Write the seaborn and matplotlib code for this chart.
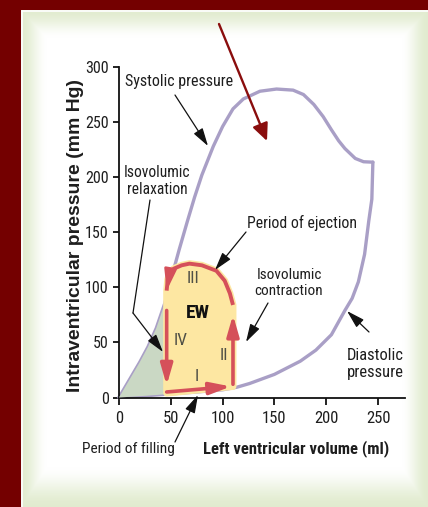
import numpy as np
import matplotlib
matplotlib.use("Agg")
import matplotlib.pyplot as plt
from matplotlib import font_manager
from matplotlib.lines import Line2D
import seaborn as sns

# ---------------- data ----------------
systolic_volume = [0, 10, 20, 28, 36, 44, 51, 58, 66, 73, 80, 91, 100, 110, 120, 136,
                   152, 168, 178, 188, 197, 205, 212, 218, 228, 236, 245]
systolic_pressure = [0, 16, 32, 46, 63, 85, 110, 134, 160, 182, 202, 228, 246, 262, 271, 278,
                     280, 279, 275, 266, 255, 243, 233, 226, 217, 214, 213.6]

diastolic_volume = [0, 25, 46, 75, 100, 114, 126, 150, 175, 190, 205, 218, 225, 231, 237, 241, 244, 245]
diastolic_pressure = [0, 1.5, 3, 5, 7, 9.4, 12.7, 21, 33, 43, 57, 79, 90, 105, 130, 160, 180, 213.6]

# PV loop phases
filling_volume = [46, 108]          # I
filling_pressure = [5, 10]
contraction_volume = [110, 110]     # II
contraction_pressure = [12, 75]
ejection_volume = [110, 107, 102, 94, 80, 68, 60.5, 53, 49, 47, 46]      # III
ejection_pressure = [84, 94.5, 106, 115, 120, 121.5, 120, 117, 113, 107, 97]
relaxation_volume = [46, 46]        # IV
relaxation_pressure = [79, 11]

# shaded areas
ew_volume = [46, 110, 110, 107, 102, 94, 80, 68, 60.5, 53, 49, 47, 46]
ew_pressure = [4, 10, 84, 94.5, 106, 115, 120, 121.5, 120, 117, 113, 107, 97]
green_volume = [0, 10, 20, 28, 36, 44, 46, 46, 25, 0]
green_pressure = [0, 16, 32, 46, 63, 85, 90, 3, 1.5, 0]

phase_labels = ["III", "IV", "II", "I"]
phase_volume = [71.5, 59, 101.5, 75]
phase_pressure = [108, 52, 38.5, 19]

x_ticks = [0, 50, 100, 150, 200, 250]
y_ticks = [0, 50, 100, 150, 200, 250, 300]

# ---------------- style ----------------
sns.set_theme(style="white")
names = {f.name for f in font_manager.fontManager.ttflist}
NARROW = "Liberation Sans"
for cand in ["Liberation Sans Narrow", "Arial Narrow", "Roboto Condensed", "PT Sans Narrow",
             "Archivo Narrow", "Barlow Semi Condensed"]:
    if cand in names:
        NARROW = cand
        break
REG = "Liberation Sans"
plt.rcParams["font.family"] = [NARROW, "DejaVu Sans"]

PURPLE = "#a99fc6"
RED = "#d5505a"
YELLOW = "#fde7a2"
GREEN = "#cad8c4"
DARKRED = "#8a0d0d"
TXT = "#1e1e1e"

W, H = 428, 507
fig = plt.figure(figsize=(W / 100, H / 100), dpi=100)
fig.patch.set_facecolor("#740000")
renderer = fig.canvas.get_renderer()

# panel with soft green border
bg = fig.add_axes([21 / W, 0, (W - 21) / W, (H - 10) / H])
bg.axis("off")
ph, pw = H - 10, W - 21
yy, xx = np.mgrid[0:ph, 0:pw].astype(float)
d = np.minimum.reduce([xx / 26.0, (pw - 1 - xx) / 26.0, yy / 28.0, (ph - 1 - yy) / 40.0])
t = np.clip(d, 0, 1)
t = t * t * (3 - 2 * t)
edge = np.array([0.885, 0.925, 0.815])
img = edge[None, None, :] + (1 - edge[None, None, :]) * t[:, :, None]
bg.imshow(img, extent=[0, 1, 0, 1], aspect="auto", origin="upper", interpolation="bilinear")
bg.set_xlim(0, 1)
bg.set_ylim(0, 1)
fig.add_artist(Line2D([21.5 / W, 21.5 / W], [0, (H - 10.5) / H], color="white", lw=1.2))
fig.add_artist(Line2D([21.5 / W, 1], [(H - 10.5) / H, (H - 10.5) / H], color="white", lw=1.2))

# main axes
ax = fig.add_axes([119 / W, (H - 397.5) / H, (405 - 119) / W, (397.5 - 67) / H])
ax.patch.set_alpha(0)
ax.set_xlim(0, 276)
ax.set_ylim(0, 300)

sns.lineplot(x=systolic_volume, y=systolic_pressure, sort=False, estimator=None,
             color=PURPLE, lw=2.4, ax=ax, zorder=2)
sns.lineplot(x=diastolic_volume, y=diastolic_pressure, sort=False, estimator=None,
             color=PURPLE, lw=2.4, ax=ax, zorder=2)
for ln in ax.lines:
    ln.set_clip_on(False)
    ln.set_solid_joinstyle("round")

ax.fill(green_volume, green_pressure, color=GREEN, lw=0, zorder=3)
ax.fill(ew_volume, ew_pressure, facecolor=YELLOW, edgecolor=YELLOW, lw=5, zorder=3,
        joinstyle="round")

# loop
sns.lineplot(x=ejection_volume, y=ejection_pressure, sort=False, estimator=None,
             color=RED, lw=2.8, ax=ax, zorder=4)
ax.lines[-1].set_solid_capstyle("butt")

red_head = dict(arrowstyle="-|>,head_length=1.25,head_width=0.36", color=RED, lw=2.6,
                mutation_scale=10, shrinkA=0, shrinkB=0)
for vv, pp in [(filling_volume, filling_pressure),
               (contraction_volume, contraction_pressure),
               (relaxation_volume, relaxation_pressure)]:
    ax.annotate("", xy=(vv[1], pp[1]), xytext=(vv[0], pp[0]), xycoords="data",
                arrowprops=red_head, zorder=4, annotation_clip=False)
ax.annotate("", xy=(ejection_volume[-1], ejection_pressure[-1]),
            xytext=(ejection_volume[-3], ejection_pressure[-3]),
            arrowprops=dict(arrowstyle="-|>,head_length=1.25,head_width=0.36", color=RED,
                            lw=2.0, mutation_scale=10, shrinkA=0, shrinkB=0), zorder=4)


def fit(txt, target, dim="w"):
    """scale the font so that the text spans `target` pixels"""
    for _ in range(3):
        bb = txt.get_window_extent(renderer)
        cur = bb.width if dim == "w" else bb.height
        if cur > 0:
            txt.set_fontsize(txt.get_fontsize() * target / cur)
    return txt


for lab, vv, pp in zip(phase_labels, phase_volume, phase_pressure):
    ax.text(vv, pp, lab, ha="center", va="center", fontsize=12.5, family=NARROW,
            color="#505046", zorder=5)
ew = ax.text(76.5, 76.5, "EW", ha="center", va="center", fontsize=12.5, family=NARROW,
             fontweight="bold", color="#111", zorder=5)
fit(ew, 24)

# axes styling
ax.set_xticks(x_ticks)
ax.set_yticks(y_ticks)
for s in ["top", "right"]:
    ax.spines[s].set_visible(False)
for s in ["left", "bottom"]:
    ax.spines[s].set_color("#111")
    ax.spines[s].set_linewidth(1.3)
ax.tick_params(axis="y", direction="out", length=4.5, width=1.3, color="#111", pad=3,
               labelsize=11.5, labelcolor=TXT, left=True)
ax.tick_params(axis="x", direction="out", length=5, width=1.3, color="#111", pad=5,
               labelsize=12, labelcolor=TXT, bottom=True)
for lb in ax.get_xticklabels() + ax.get_yticklabels():
    lb.set_family(NARROW)
ax.set_xlabel("")
ax.set_ylabel("")


def ftext(x, y, s, target=None, dim="w", **kw):
    kw.setdefault("fontsize", 12.5)
    kw.setdefault("family", NARROW)
    kw.setdefault("color", TXT)
    t_ = fig.text(x / W, 1 - y / H, s, ha=kw.pop("ha", "center"), va=kw.pop("va", "center"),
                  linespacing=1.12, **kw)
    if target:
        fit(t_, target, dim)
    return t_


ftext(296, 449, "Left ventricular volume (ml)", target=187, fontweight="bold")
ftext(75.5, 235.5, "Intraventricular pressure (mm Hg)", target=312, dim="h", fontweight="bold",
      family=REG, rotation=90)

ftext(179, 82, "Systolic pressure", target=108)
ftext(157, 181, "Isovolumic\nrelaxation", target=67)
ftext(302, 223, "Period of ejection", target=110)
ftext(289, 283, "Isovolumic\ncontraction", target=69)
ftext(375, 364, "Diastolic\npressure", target=57)
ftext(128, 449, "Period of filling", target=93)

blk = dict(arrowstyle="-|>,head_length=1.1,head_width=0.32", color="#111", lw=0.9,
           mutation_scale=10, shrinkA=0, shrinkB=0)


def fp(x, y):
    return (x, H - y)


def arrow(start, tip, props):
    ax.annotate("", xy=fp(*tip), xycoords="figure pixels", xytext=fp(*start),
                textcoords="figure pixels", arrowprops=props, annotation_clip=False, zorder=6)


arrow((175, 95), (208, 146), blk)
fig.add_artist(Line2D([150 / W, 133 / W], [1 - 200 / H, 1 - 313 / H], color="#111", lw=0.9))
arrow((133, 313), (163, 352), blk)
arrow((246, 232), (215, 270), blk)
arrow((268, 303), (246, 342), blk)
arrow((369, 332), (347, 311), blk)
arrow((175, 442), (198, 395), blk)

# big red pointer
arrow((219, 24), (267, 141), dict(arrowstyle="-|>,head_length=1.05,head_width=0.48",
                                  color=DARKRED, lw=1.7, mutation_scale=10, shrinkA=0, shrinkB=0))

fig.savefig("out.png", dpi=100, facecolor=fig.get_facecolor())
